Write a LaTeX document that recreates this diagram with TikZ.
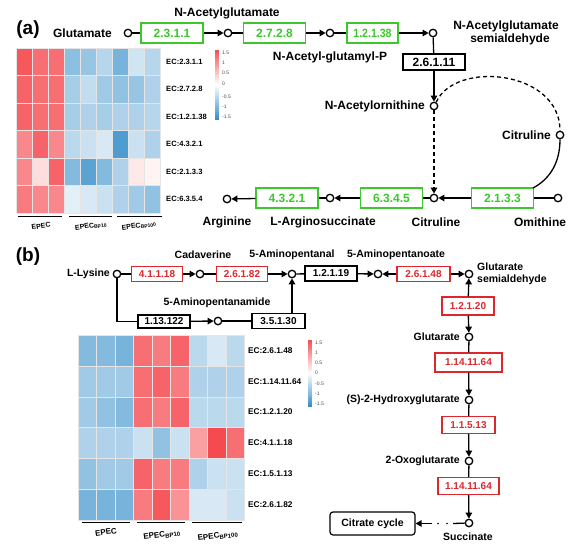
\documentclass[tikz,border=0pt]{standalone}
\usepackage{fontspec}
\setmainfont{Liberation Sans}
\usetikzlibrary{arrows.meta}
\definecolor{ecgreen}{RGB}{60,200,45}
\definecolor{ecred}{RGB}{220,40,45}
\definecolor{hmred}{RGB}{245,75,80}
\definecolor{hmblue}{RGB}{50,140,200}
\newcommand\fsA{\fontsize{12}{13}\selectfont\bfseries}
\newcommand\fsB{\fontsize{10.5}{12}\selectfont\bfseries}
\newcommand\fsBe{\fontsize{10}{11}\selectfont\bfseries}
\begin{document}
\begin{tikzpicture}[x=1pt,y=-1pt,
  met/.style={circle,draw,line width=1.3pt,minimum size=7.5pt,inner sep=0pt},
  gbox/.style={draw=ecgreen,line width=1.2pt,text=ecgreen,font=\fsA,minimum width=62pt,minimum height=20pt,inner sep=0pt},
  kboxa/.style={draw=black,line width=1.2pt,font=\fsA,minimum width=62pt,minimum height=16pt,inner sep=0pt},
  rbox/.style={draw=ecred,line width=1.2pt,text=ecred,font=\fsBe,minimum width=51pt,minimum height=15pt,inner sep=0pt},
  kboxb/.style={draw=black,line width=1.2pt,font=\fsBe,minimum width=52pt,minimum height=14pt,inner sep=0pt},
  lbla/.style={font=\fsA,inner sep=0pt},
  lblb/.style={font=\fsB,inner sep=0pt},
  ln/.style={line width=1.3pt},
  arr/.style={line width=1.3pt,-{Triangle[length=6pt,width=6.5pt]}},
  hml/.style={font=\fontsize{7.6}{8}\selectfont\bfseries,anchor=west,inner sep=0pt},
  hmlb/.style={font=\fontsize{8.3}{9}\selectfont\bfseries,anchor=west,inner sep=0pt},
  cbl/.style={font=\fontsize{5}{5}\selectfont,text=black!70,anchor=west,inner sep=0pt},
  grp/.style={font=\fontsize{7}{7}\selectfont\bfseries,rotate=8,inner sep=0pt},
  grpb/.style={font=\fontsize{8}{8}\selectfont\bfseries,rotate=8,inner sep=0pt}]
\useasboundingbox (0,0) rectangle (573,549);
\fill[white] (0,0) rectangle (573,549);

% ================= panel (a) =================
\node[font=\fontsize{19}{19}\selectfont\bfseries,inner sep=0pt] (pa) at (28,30) {(a)};
\node[met] (glu) at (128,33) {};
\node[lbla,anchor=east] (tglu) at (112,33) {Glutamate};
\node[gbox] (e2311) at (172,33) {2.3.1.1};
\node[met] (c1) at (228,33) {};
\node[lbla] (tc1) at (227,13) {N-Acetylglutamate};
\node[gbox] (e2728) at (274.5,33) {2.7.2.8};
\node[met] (c2) at (330,33) {};
\node[lbla] (tc2) at (330,57) {N-Acetyl-glutamyl-P};
\node[gbox,minimum width=51pt] (e12138) at (372.5,33) {\scalebox{0.88}[1]{1.2.1.38}};
\node[met] (c3) at (433,33) {};
\node[lbla,align=center] (tc3) at (506,33) {N-Acetylglutamate\\\hspace*{8pt}semialdehyde};
\node[kboxa] (e26111) at (434,62) {2.6.1.11};
\node[met] (c4) at (434,106) {};
\node[lbla,anchor=east] (tc4) at (425,106) {N-Acetylornithine};
\node[met] (c5) at (434,198) {};
\node[lbla] (tc5) at (436,222) {Citruline};
\node[met] (c6) at (560,135) {};
\node[lbla,anchor=east] (tc6) at (551,135) {Citruline};
\node[gbox] (e2133) at (502.5,198) {2.1.3.3};
\node[met] (c7) at (558,198) {};
\node[lbla] (tc7) at (540,222) {Omithine};
\node[gbox] (e6345) at (391.5,198) {6.3.4.5};
\node[met] (c8) at (330,198) {};
\node[lbla] (tc8) at (323,222) {L-Arginosuccinate};
\node[gbox] (e4321) at (287,198) {4.3.2.1};
\node[met] (c9) at (227,199) {};
\node[lbla] (tc9) at (227,222) {Arginine};

\draw[ln] (glu) -- (e2311);
\draw[arr] (e2311) -- (c1);
\draw[ln] (c1) -- (e2728);
\draw[arr] (e2728) -- (c2);
\draw[ln] (c2) -- (e12138);
\draw[arr] (e12138) -- (c3);
\draw[ln] (c3) -- (e26111);
\draw[arr] (e26111) -- (c4);
\draw[arr,dash pattern=on 4pt off 3pt] (c4) -- (c5);
\draw[ln,dash pattern=on 4pt off 3pt] (c4.60) .. controls (455,60) and (560,70) .. (c6.north);
\coordinate (e2133tr) at (533,188);
\draw[ln] (c6.south) .. controls (560,165) and (548,180) .. (e2133tr);
\draw[ln] (c7) -- (e2133);
\draw[arr] (e2133) -- (c5);
\draw[ln] (c5) -- (e6345);
\draw[arr] (e6345) -- (c8);
\draw[ln] (c8) -- (e4321);
\draw[arr] (e4321) -- (c9);

% heatmap (a)
\foreach \row [count=\r] in {
 {1.4,1.2,1.2,-0.85,-0.75,-0.55,-1.0,-0.35,-0.55},
 {1.3,1.2,1.2,-0.65,-0.45,-0.7,-0.8,-0.75,-0.6},
 {1.3,1.2,1.2,-0.65,-0.6,-0.65,-0.6,-0.6,-0.55},
 {1.0,1.3,1.0,-0.5,-0.4,-0.3,-1.3,-0.4,-0.6},
 {1.0,0.3,1.3,-0.9,-1.2,-0.9,-0.6,0.2,0.1},
 {1.1,1.0,1.0,-0.2,-0.3,-0.4,-0.6,-0.7,-0.8}}{
  \foreach \v [count=\c] in \row {
    \ifdim\v pt<0pt \def\hc{hmblue}\else\def\hc{hmred}\fi
    \pgfmathtruncatemacro\p{min(100,abs(\v)/1.5*100)}
    \fill[fill=\hc!\p!white] ({16+16*(\c-1)},{48+27.5*(\r-1)}) rectangle ++(16,27.5);
    \draw[white!80!gray,line width=0.2pt] ({16+16*(\c-1)},{48+27.5*(\r-1)}) rectangle ++(16,27.5);
  }
}
\foreach \lab [count=\r] in {EC:2.3.1.1,EC:2.7.2.8,EC:1.2.1.38,EC:4.3.2.1,EC:2.1.3.3,EC:6.3.5.4}
  \node[hml] (hal\r) at (166,{48+27.5*(\r-0.5)}) {\lab};
\foreach \i in {0,...,34}{
  \pgfmathsetmacro\vv{1.5-3*(\i+0.5)/35}
  \ifdim\vv pt<0pt \def\hc{hmblue}\else\def\hc{hmred}\fi
  \pgfmathtruncatemacro\p{min(100,abs(\vv)/1.5*100)}
  \fill[fill=\hc!\p!white] (215,{50+2*\i}) rectangle ++(4,2.05);
}
\foreach \t/\yy [count=\k] in {1.5/53,1/63,0.5/73,0/84,-0.5/97,-1/107,-1.5/117}
  \node[cbl] (cba\k) at (222,\yy) {\t};
\draw[line width=1pt] (18,216) -- (62,216);
\draw[line width=1pt] (69,216) -- (112,216);
\draw[line width=1pt] (117,216) -- (162,216);
\node[grp] (ga1) at (41,226) {EPEC};
\node[grp] (ga2) at (91,226) {EPEC\textsubscript{BP10}};
\node[grp] (ga3) at (139,226) {EPEC\textsubscript{BP100}};

% ================= panel (b) =================
\node[font=\fontsize{19}{19}\selectfont\bfseries,inner sep=0pt] (pb) at (28,257) {(b)};
\node[met] (lys) at (117,274) {};
\node[lblb,anchor=east] (tlys) at (110,274) {L-Lysine};
\node[rbox] (e41118) at (157,274) {4.1.1.18};
\node[met] (cad) at (200,274) {};
\node[lblb] (tcad) at (203,255) {Cadaverine};
\node[rbox] (e26182) at (242,274) {2.6.1.82};
\node[met] (apal) at (292,274) {};
\node[lblb] (tapal) at (292,255) {5-Aminopentanal};
\node[kboxb,minimum height=15pt] (e12119) at (331,273.5) {1.2.1.19};
\node[met] (apoa) at (378,274) {};
\node[lblb] (tapoa) at (396,255) {5-Aminopentanoate};
\node[rbox,minimum width=53pt] (e26148) at (423.5,274) {2.6.1.48};
\node[met] (gsa) at (469,274) {};
\node[lblb,anchor=west,align=left] (tgsa) at (477,273.5) {Glutarate\\semialdehyde};
\node[rbox,minimum width=52pt,minimum height=18pt] (e12120) at (468,306) {1.2.1.20};
\node[met] (glt) at (469,337) {};
\node[lblb,anchor=east] (tglt) at (460,337) {Glutarate};
\node[rbox,minimum width=67pt,minimum height=19pt] (e114a) at (468.5,362.5) {1.14.11.64};
\node[met] (hg) at (469,400) {};
\node[lblb,anchor=east] (thg) at (460,400) {(S)-2-Hydroxyglutarate};
\node[rbox,minimum width=53pt,minimum height=17pt] (e11513) at (468.5,425) {1.1.5.13};
\node[met] (og) at (469,461) {};
\node[lblb,anchor=east] (tog) at (460,461) {2-Oxoglutarate};
\node[rbox,minimum width=61pt,minimum height=17pt] (e114b) at (468.5,486) {1.14.11.64};
\node[met] (suc) at (469,523) {};
\node[lblb] (tsuc) at (468,537) {Succinate};
\node[draw,line width=1.2pt,rounded corners=3pt,font=\fsB,minimum width=85pt,minimum height=23pt,inner sep=0pt] (cc) at (372.5,523.5) {Citrate cycle};
\node[kboxb,minimum height=13pt] (e113122) at (164,321.5) {1.13.122};
\node[met] (apam) at (218,321) {};
\node[lblb] (tapam) at (217,303) {5-Aminopentanamide};
\node[kboxb,minimum width=53pt,minimum height=15pt] (e35130) at (278.5,321) {3.5.1.30};

\draw[ln] (lys) -- (e41118);
\draw[arr] (e41118) -- (cad);
\draw[ln] (cad) -- (e26182);
\draw[arr] (e26182) -- (apal);
\draw[ln] (apal) -- (e12119);
\draw[arr] (e12119) -- (apoa);
\draw[arr] (e26148) -- (apoa);
\draw[arr] (e26148) -- (gsa);
\draw[arr] (e12120) -- (gsa);
\draw[arr] (e12120) -- (glt);
\draw[ln] (glt) -- (e114a);
\draw[arr] (e114a) -- (hg);
\draw[ln] (hg) -- (e11513);
\draw[arr] (e11513) -- (og);
\draw[ln] (og) -- (e114b);
\draw[arr] (e114b) -- (suc);
\draw[ln] (lys) |- (e113122);
\draw[arr] (e113122) -- (apam);
\draw[ln] (apam) -- (e35130);
\draw[arr] (e35130.north -| apal) -- (apal);
\coordinate (s1) at (453,523.5);
\coordinate (dt1) at (447,523.5);
\coordinate (dt2) at (438,523.5);
\coordinate (s2) at (432,523.5);
\draw[ln] (suc) -- (s1);
\fill (dt1) circle (0.9pt);
\fill (dt2) circle (0.9pt);
\draw[arr] (s2) -- (cc);

% heatmap (b)
\foreach \row [count=\r] in {
 {-0.9,-0.9,-1.0,1.2,1.1,1.3,-0.5,-0.3,-0.5},
 {-0.7,-0.7,-0.7,1.2,1.3,1.1,-0.6,-0.6,-0.6},
 {-0.7,-0.8,-0.9,1.2,1.1,1.3,-0.5,-0.5,-0.5},
 {-0.6,-0.6,-0.6,-0.4,-0.8,-0.4,0.8,1.5,1.2},
 {-0.8,-0.7,-0.7,1.3,1.1,1.1,-0.6,-0.4,-0.4},
 {-1.0,-1.0,-1.0,1.1,1.4,0.9,-0.3,-0.3,-0.4}}{
  \foreach \v [count=\c] in \row {
    \ifdim\v pt<0pt \def\hc{hmblue}\else\def\hc{hmred}\fi
    \pgfmathtruncatemacro\p{min(100,abs(\v)/1.5*100)}
    \fill[fill=\hc!\p!white] ({78+18.5*(\c-1)},{335+30.8*(\r-1)}) rectangle ++(18.5,30.8);
    \draw[white!80!gray,line width=0.2pt] ({78+18.5*(\c-1)},{335+30.8*(\r-1)}) rectangle ++(18.5,30.8);
  }
}
\foreach \lab [count=\r] in {EC:2.6.1.48,EC:1.14.11.64,EC:1.2.1.20,EC:4.1.1.18,EC:1.5.1.13,EC:2.6.1.82}
  \node[hmlb] (hbl\r) at (248,{335+30.8*(\r-0.5)}) {\lab};
\foreach \i in {0,...,34}{
  \pgfmathsetmacro\vv{1.5-3*(\i+0.5)/35}
  \ifdim\vv pt<0pt \def\hc{hmblue}\else\def\hc{hmred}\fi
  \pgfmathtruncatemacro\p{min(100,abs(\vv)/1.5*100)}
  \fill[fill=\hc!\p!white] (308,{340+1.914*\i}) rectangle ++(4,1.95);
}
\foreach \t/\yy [count=\k] in {1.5/343,1/353,0.5/363,0/373,-0.5/384,-1/394,-1.5/404}
  \node[cbl] (cbb\k) at (315,\yy) {\t};
\draw[line width=1pt] (82,522) -- (130,522);
\draw[line width=1pt] (137,522) -- (185,522);
\draw[line width=1pt] (192,522) -- (242,522);
\node[grpb] (gb1) at (106,532) {EPEC};
\node[grpb] (gb2) at (162,535) {EPEC\textsubscript{BP10}};
\node[grpb] (gb3) at (218,536) {EPEC\textsubscript{BP100}};
\end{tikzpicture}
\end{document}
